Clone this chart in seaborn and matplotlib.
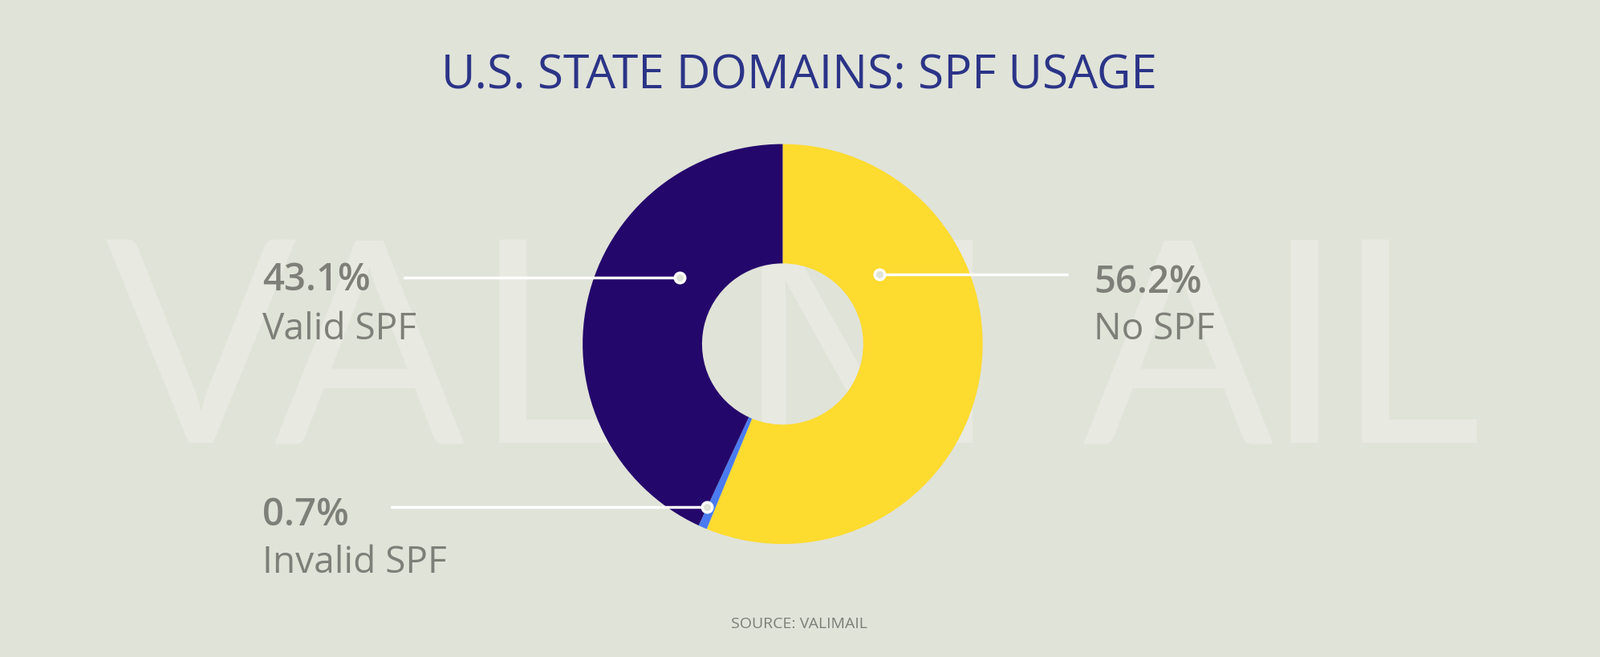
import matplotlib
matplotlib.use("Agg")
import matplotlib.pyplot as plt
import seaborn as sns

categories = ["No SPF", "Invalid SPF", "Valid SPF"]
values = [56.2, 0.7, 43.1]
colors = ["#FDDB2F", "#4A7BF0", "#24076B"]
pct_labels = ["56.2%", "0.7%", "43.1%"]
watermark = "VALIMAIL"

sns.set_style("white")
BG = "#E0E3D8"
GREY = "#7E7F78"
S = 1994 / 1568
def Y(y): return 820 - y * S
def X(x): return x * S

fig = plt.figure(figsize=(19.94, 8.2), dpi=100, facecolor=BG)
ax = fig.add_axes([0, 0, 1, 1])
ax.set_xlim(0, 1994); ax.set_ylim(0, 820)
ax.set_aspect("equal"); ax.axis("off"); ax.set_facecolor(BG)

wx = [197, 362, 535, 670, 850, 1155, 1278, 1380]
for ch, x in zip(watermark, wx):
    ax.text(X(x), Y(356), ch, ha="center", va="center", fontsize=254,
            color="#E8E9E1", family="Lato", zorder=0)

ax.pie(values, colors=colors, startangle=90, counterclock=False,
       center=(X(767), Y(338)), radius=196 * S,
       wedgeprops=dict(width=117 * S, linewidth=0), frame=True)
ax.set_xlim(0, 1994); ax.set_ylim(0, 820); ax.axis("off")

ax.text(X(783), Y(75), "U.S. STATE DOMAINS: SPF USAGE", ha="center", va="center",
        fontsize=42, color="#2B3487", family="Open Sans")

leaders = [(1046, 862, 270), (384, 693, 498), (396, 666, 273)]
for (xs, xd, y) in leaders:
    ax.plot([X(xs), X(xd)], [Y(y), Y(y)], color="white", lw=2.5, zorder=5)
    ax.plot(X(xd), Y(y), "o", ms=9, mfc=BG, mec="white", mew=2.5, zorder=6)

pos = [(1072, 277, 323), (257, 505, 552), (257, 275, 323)]
for lab, pl, (x, y1, y2) in zip(categories, pct_labels, pos):
    ax.text(X(x), Y(y1), pl, ha="left", va="center", fontsize=34, color=GREY,
            family="Open Sans", fontweight="semibold")
    ax.text(X(x), Y(y2), lab, ha="left", va="center", fontsize=33, color=GREY,
            family="Open Sans")

ax.text(X(783), Y(612), "SOURCE: VALIMAIL", ha="center", va="center",
        fontsize=14, color=GREY, family="Open Sans")

fig.savefig("out.png", dpi=100, facecolor=BG)
